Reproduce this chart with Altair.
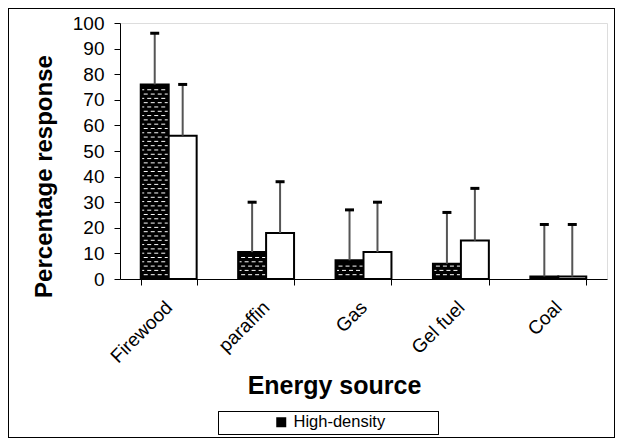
import altair as alt
import pandas as pd

# ---- data ----
categories = ["Firewood", "paraffin", "Gas", "Gel fuel", "Coal"]
series = ["High-density", "Low-density"]
high_values = [76, 10.5, 7.3, 6, 1]
low_values = [56, 18, 10.5, 15, 1]
high_sd = [20, 19.5, 19.7, 20, 20.3]
low_sd = [20, 20, 19.5, 20.4, 20.3]

rows = []
for c, hv, hs, lv, ls in zip(categories, high_values, high_sd, low_values, low_sd):
    rows.append({"cat": c, "series": series[0], "value": hv, "sd": hs})
    rows.append({"cat": c, "series": series[1], "value": lv, "sd": ls})
df = pd.DataFrame(rows)

# texture rows (white dashes) inside the dark bars
ROW_STEP = 1.68
tex = []
for c, hv in zip(categories, high_values):
    k = 1
    while k * ROW_STEP <= hv - 0.8:
        tex.append({"cat": c, "series": series[0], "y": k * ROW_STEP,
                    "row": "a" if k % 2 else "b"})
        k += 1
tex_df = pd.DataFrame(tex)

PATH_A = "M-0.786,0H-0.5M-0.286,0H0M0.214,0H0.5M0.714,0H0.929"
PATH_B = "M-0.893,0H-0.75M-0.536,0H-0.25M-0.036,0H0.25M0.464,0H0.75"

FONT = "Liberation Sans"

x_axis = alt.Axis(title="Energy source", labelAngle=-45,
                  labelAlign="right", labelBaseline="middle",
                  labelFontSize=19, labelPadding=19,
                  labelColor="black", labelFont=FONT,
                  tickBand="extent", tickSize=6, tickColor="black",
                  domainColor="black",
                  titleFont=FONT, titleFontSize=25, titleFontWeight="bold",
                  titleColor="black", titleX=214, titleY=114,
                  titleBaseline="alphabetic")
y_axis = alt.Axis(title="Percentage response", values=list(range(0, 101, 10)),
                  labelOverlap=False,
                  grid=False, tickSize=6, tickColor="black",
                  domainColor="black", labelFontSize=19, labelFont=FONT,
                  labelColor="black", labelPadding=10,
                  titleFont=FONT, titleFontSize=24, titleFontWeight="bold",
                  titleColor="black", titleX=-64, titleY=153)

x_scale = alt.Scale(paddingInner=0.426, paddingOuter=0.213)
y_scale = alt.Scale(domain=[0, 100], nice=False)


def X():
    return alt.X("cat:N", sort=categories, scale=x_scale, axis=x_axis)


def XO():
    return alt.XOffset("series:N", scale=alt.Scale(domain=series, paddingInner=0, paddingOuter=0))


bars = alt.Chart(df).mark_bar(stroke="black", strokeWidth=2).encode(
    x=X(),
    xOffset=XO(),
    y=alt.Y("value:Q", scale=y_scale, axis=y_axis),
    fill=alt.Fill("series:N", scale=alt.Scale(domain=series, range=["black", "white"]),
                  legend=alt.Legend(values=["High-density"], title=None,
                                    orient="none", legendX=153, legendY=391,
                                    symbolType="square", symbolSize=100,
                                    symbolStrokeWidth=0, labelFont=FONT,
                                    labelFontSize=16.5, labelColor="black",
                                    labelOffset=4, padding=0)),
)

texture = alt.Chart(tex_df).mark_point(filled=False, stroke="white", strokeWidth=1,
                                       size=784, opacity=1).encode(
    x=X(),
    xOffset=XO(),
    y=alt.Y("y:Q", scale=y_scale, axis=y_axis),
    shape=alt.Shape("row:N", scale=alt.Scale(domain=["a", "b"], range=[PATH_A, PATH_B]),
                    legend=None),
)

err_base = alt.Chart(df).transform_calculate(top="datum.value + datum.sd")

err_lines = err_base.mark_rule(color="#555555", strokeWidth=2).encode(
    x=X(),
    xOffset=XO(),
    y=alt.Y("value:Q", scale=y_scale, axis=y_axis),
    y2="top:Q",
)
err_caps = err_base.mark_tick(color="black", size=9, thickness=3, opacity=1).encode(
    x=X(),
    xOffset=XO(),
    y=alt.Y("top:Q", scale=y_scale, axis=y_axis),
)

legend_box = alt.Chart(df).mark_rect(fill="white", stroke="black", strokeWidth=1).encode(
    x=alt.value(98.5), x2=alt.value(318.5), y=alt.value(388.5), y2=alt.value(411.5)
)
frame = alt.Chart(df).mark_rect(fill="transparent", stroke="black", strokeWidth=1).encode(
    x=alt.value(-111.5), x2=alt.value(494.5), y=alt.value(-14.5), y2=alt.value(414.5)
)

chart = alt.layer(frame, legend_box, bars, texture, err_lines, err_caps).properties(
    width=487, height=256,
    autosize=alt.AutoSizeParams(type="none"),
    padding={"left": 112, "top": 15, "right": 8, "bottom": 159},
).configure_view(strokeWidth=0).configure(background="white")

chart.save("out.html", embed_options={"renderer": "svg", "actions": False})
